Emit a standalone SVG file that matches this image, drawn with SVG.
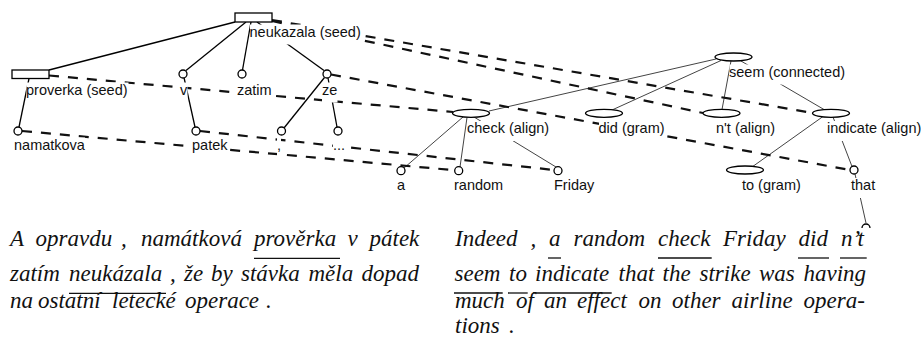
<svg xmlns="http://www.w3.org/2000/svg" width="921" height="340" viewBox="0 0 921 340">
<style>
.e{stroke:#000;stroke-width:1.3;fill:none}
.f{stroke:#444;stroke-width:1;fill:none}
.d{stroke:#111;stroke-width:2.2;stroke-dasharray:10 9;fill:none}
.c{fill:#fff;stroke:#000;stroke-width:1.3}
.bg{fill:#fff}
.lb{font-family:"Liberation Sans",Arial,sans-serif;font-size:14.5px;fill:#111}
.tx{font-family:"Liberation Serif","Times New Roman",serif;font-style:italic;font-size:23px;fill:#111}
.ul{stroke:#111;stroke-width:1.3}
</style>
<rect width="921" height="340" fill="#fff"/>
<g id="connectors">
  <line class="e" x1="235" y1="22" x2="49" y2="70"/>
  <line class="e" x1="246" y1="22" x2="186" y2="70.5"/>
  <line class="e" x1="251" y1="22" x2="242.5" y2="70"/>
  <line class="e" x1="257" y1="22" x2="324" y2="70.5"/>
  <line class="e" x1="29" y1="78.5" x2="19" y2="127"/>
  <line class="e" x1="184" y1="77.5" x2="195" y2="127"/>
  <line class="e" x1="324.5" y1="77.5" x2="284" y2="128"/>
  <line class="e" x1="328" y1="78" x2="337" y2="127"/>
  <line class="f" x1="716" y1="59" x2="489" y2="111"/>
  <line class="f" x1="721" y1="60.5" x2="612" y2="110"/>
  <line class="f" x1="731" y1="61" x2="722" y2="109.5"/>
  <line class="f" x1="741" y1="61" x2="824" y2="109.5"/>
  <line class="f" x1="463" y1="117" x2="404" y2="168"/>
  <line class="f" x1="467" y1="117.5" x2="460" y2="167"/>
  <line class="f" x1="474" y1="117" x2="556" y2="167"/>
  <line class="f" x1="823" y1="116.5" x2="752" y2="167"/>
  <line class="f" x1="833" y1="117" x2="852" y2="166.5"/>
  <line class="f" x1="855" y1="174" x2="866" y2="223"/>
  <line class="d" x1="272" y1="20" x2="813" y2="113"/>
  <line class="d" x1="272" y1="21" x2="703" y2="113"/>
  <line class="d" x1="49" y1="75.5" x2="453" y2="112"/>
  <line class="d" x1="331" y1="74.5" x2="850" y2="170"/>
  <line class="d" x1="22" y1="131" x2="452" y2="170"/>
  <line class="d" x1="200" y1="131" x2="554" y2="170"/>
</g>
<g id="n-neukazala"><rect class="c" x="235" y="13" width="37" height="9"/><rect class="bg" x="250" y="24.5" width="111" height="20"/><text class="lb" x="249.5" y="36.5">neukazala (seed)</text></g>
<g id="n-proverka"><rect class="c" x="12" y="70" width="37" height="8.5"/><rect class="bg" x="26.5" y="82.5" width="102" height="20"/><text class="lb" x="26" y="94.5">proverka (seed)</text></g>
<g id="n-v"><circle class="c" cx="183" cy="74" r="4"/><rect class="bg" x="180" y="82.5" width="7.5" height="20"/><text class="lb" x="180" y="94.5">v</text></g>
<g id="n-zatim"><circle class="c" cx="242" cy="74" r="4"/><rect class="bg" x="237" y="82.5" width="35" height="20"/><text class="lb" x="237" y="94.5">zatim</text></g>
<g id="n-ze"><circle class="c" cx="327" cy="74" r="4"/><rect class="bg" x="322" y="82.5" width="15.5" height="20"/><text class="lb" x="322" y="94.5">ze</text></g>
<g id="n-namatkova"><circle class="c" cx="18" cy="131" r="4"/><rect class="bg" x="14" y="137.5" width="71" height="20"/><text class="lb" x="14" y="149.5">namatkova</text></g>
<g id="n-patek"><circle class="c" cx="196" cy="131" r="4"/><rect class="bg" x="192" y="137.5" width="35.5" height="20"/><text class="lb" x="192" y="149.5">patek</text></g>
<g id="n-comma"><circle class="c" cx="281.5" cy="131" r="4"/><rect class="bg" x="277" y="137.5" width="4" height="20"/><text class="lb" x="277" y="149.5">,</text></g>
<g id="n-dots"><circle class="c" cx="338" cy="131" r="4"/><rect class="bg" x="333" y="137.5" width="12" height="20"/><text class="lb" x="333" y="149.5">...</text></g>
<g id="n-seem"><ellipse class="c" cx="733.5" cy="57" rx="18.5" ry="4"/><rect class="bg" x="729.5" y="64.5" width="116" height="20"/><text class="lb" x="729" y="76.5">seem (connected)</text></g>
<g id="n-check"><ellipse class="c" cx="471" cy="113.3" rx="18.5" ry="4"/><rect class="bg" x="467" y="121" width="82" height="20"/><text class="lb" x="467" y="133">check (align)</text></g>
<g id="n-did"><ellipse class="c" cx="604" cy="113.3" rx="18.5" ry="4"/><rect class="bg" x="599" y="121" width="66" height="20"/><text class="lb" x="598.5" y="133">did (gram)</text></g>
<g id="n-nt"><ellipse class="c" cx="721.5" cy="113.3" rx="18.5" ry="4"/><rect class="bg" x="716" y="121" width="59" height="20"/><text class="lb" x="716" y="133">n't (align)</text></g>
<g id="n-indicate"><ellipse class="c" cx="831" cy="113.3" rx="18.5" ry="4"/><rect class="bg" x="827" y="121" width="94" height="20"/><text class="lb" x="827" y="133">indicate (align)</text></g>
<g id="n-to"><ellipse class="c" cx="745" cy="170" rx="18.5" ry="4"/><rect class="bg" x="742" y="178" width="59" height="20"/><text class="lb" x="742" y="190">to (gram)</text></g>
<g id="n-that"><circle class="c" cx="854" cy="170" r="4"/><rect class="bg" x="851" y="178" width="24" height="20"/><text class="lb" x="851" y="190">that</text></g>
<g id="n-that-child"><path class="c" d="M862,228 A4,4 0 0 1 870,228" fill="none"/></g>
<g id="n-a"><circle class="c" cx="401" cy="170.7" r="4"/><rect class="bg" x="397" y="177.5" width="8" height="20"/><text class="lb" x="397" y="189.5">a</text></g>
<g id="n-random"><circle class="c" cx="458.7" cy="170.7" r="4"/><rect class="bg" x="454" y="177.5" width="49" height="20"/><text class="lb" x="454" y="189.5">random</text></g>
<g id="n-friday"><circle class="c" cx="558" cy="170.7" r="4"/><rect class="bg" x="554" y="177.5" width="40" height="20"/><text class="lb" x="554" y="189.5">Friday</text></g>
<g id="czech-sentence">
  <text class="tx"><tspan x="10" y="246">A</tspan><tspan x="35.5" y="246">opravdu</tspan><tspan x="121" y="246">,</tspan><tspan x="141" y="246">namátková</tspan><tspan x="254" y="246">prověrka</tspan><tspan x="347.5" y="246">v</tspan><tspan x="369.5" y="246">pátek</tspan></text>
  <text class="tx"><tspan x="10" y="280.5">zatím</tspan><tspan x="69" y="280.5">neukázala</tspan><tspan x="170" y="280.5">,</tspan><tspan x="184" y="280.5">že</tspan><tspan x="211" y="280.5">by</tspan><tspan x="241" y="280.5">stávka</tspan><tspan x="308.5" y="280.5">měla</tspan><tspan x="361.5" y="280.5">dopad</tspan></text>
  <text class="tx"><tspan x="10" y="307.5">na</tspan><tspan x="38" y="307.5">ostatní</tspan><tspan x="112" y="307.5">letecké</tspan><tspan x="185" y="307.5">operace</tspan><tspan x="266" y="307.5">.</tspan></text>
  <line class="ul" x1="254" y1="258.3" x2="340" y2="258.3"/>
  <line class="ul" x1="69" y1="293.3" x2="166" y2="293.3"/>
</g>
<g id="english-sentence">
  <text class="tx"><tspan x="455" y="246">Indeed</tspan><tspan x="530.5" y="246">,</tspan><tspan x="549" y="246">a</tspan><tspan x="573.5" y="246">random</tspan><tspan x="658" y="246">check</tspan><tspan x="723" y="246">Friday</tspan><tspan x="798.5" y="246">did</tspan><tspan x="841" y="246">n’t</tspan></text>
  <text class="tx"><tspan x="454.5" y="280.5">seem</tspan><tspan x="509" y="280.5">to</tspan><tspan x="535" y="280.5">indicate</tspan><tspan x="618.5" y="280.5">that</tspan><tspan x="662.5" y="280.5">the</tspan><tspan x="699.5" y="280.5">strike</tspan><tspan x="759" y="280.5">was</tspan><tspan x="803.5" y="280.5">having</tspan></text>
  <text class="tx"><tspan x="455" y="307.5">much</tspan><tspan x="516" y="307.5">of</tspan><tspan x="544" y="307.5">an</tspan><tspan x="577" y="307.5">effect</tspan><tspan x="638.5" y="307.5">on</tspan><tspan x="672" y="307.5">other</tspan><tspan x="731.5" y="307.5">airline</tspan><tspan x="803.5" y="307.5">opera-</tspan></text>
  <text class="tx"><tspan x="455" y="333">tions</tspan><tspan x="509" y="333">.</tspan></text>
  <line class="ul" x1="548" y1="258" x2="561" y2="258"/>
  <line class="ul" x1="658" y1="258" x2="711.7" y2="258"/>
  <line class="ul" x1="798" y1="258" x2="829" y2="258"/>
  <line class="ul" x1="840" y1="258" x2="866.7" y2="258"/>
  <line class="ul" x1="454" y1="293" x2="502.7" y2="293"/>
  <line class="ul" x1="508" y1="293" x2="527.7" y2="293"/>
  <line class="ul" x1="533" y1="293" x2="611.7" y2="293"/>
</g>
</svg>
